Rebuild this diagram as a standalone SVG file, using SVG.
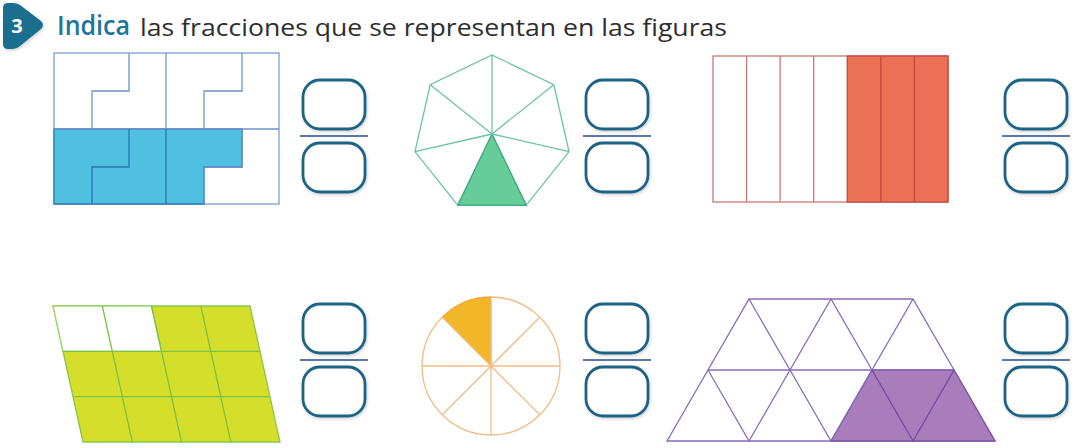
<svg xmlns="http://www.w3.org/2000/svg" width="1078" height="448" viewBox="0 0 1078 448">
<defs>
<filter id="sh" x="-20%" y="-20%" width="140%" height="140%">
<feDropShadow dx="1" dy="1.5" stdDeviation="1.5" flood-color="#000" flood-opacity="0.18"/>
</filter>
<g id="frac">
<rect x="0" y="0" width="62" height="49" rx="17" class="fbox" filter="url(#sh)"/>
<line x1="-3" y1="56" x2="65" y2="56" class="fline"/>
<rect x="0" y="63" width="62" height="49" rx="17" class="fbox" filter="url(#sh)"/>
</g>
</defs>
<style>
.fbox{fill:#fff;stroke:#1f6486;stroke-width:2.8}
.fline{stroke:#5b78a8;stroke-width:2}
.title{font-family:"Open Sans","Noto Sans",sans-serif}
</style>
<rect width="1078" height="448" fill="#fff"/>

<g id="header">
<path d="M8,3 L13,3 Q17,3 20,5 L41,21 Q45,25 41,29 L20,46 Q17,49 13,49 L8,49 Q3,49 3,44 L3,8 Q3,3 8,3 Z" fill="#1a6e8e" filter="url(#sh)"/>
<text x="17" y="33" font-family="'Open Sans',sans-serif" font-weight="bold" font-size="20" fill="#fff" text-anchor="middle">3</text>
<text x="57" y="35" class="title" font-weight="600" font-size="27" fill="#1e7699" textLength="73" lengthAdjust="spacingAndGlyphs">Indica</text>
<text x="140" y="36" class="title" font-size="24" fill="#2e2e2e" textLength="587" lengthAdjust="spacingAndGlyphs">las fracciones que se representan en las figuras</text>
</g>

<g id="fig1">
<rect x="54" y="53" width="225" height="151" fill="#fff" stroke="#7d9fd0" stroke-width="1.3"/>
<polygon points="54,129 242,129 242,167 204,167 204,204 54,204" fill="#4fc0df" stroke="#2f7ab5" stroke-width="1.3"/>
<g fill="none" stroke="#6e93c8" stroke-width="1.3">
<line x1="166" y1="53" x2="166" y2="129"/>
<line x1="54" y1="129" x2="279" y2="129"/>
<polyline points="129,53 129,91 92,91 92,129"/>
<polyline points="242,53 242,91 204,91 204,129"/>
<polyline points="242,129 242,167 204,167 204,204"/>
</g>
<g fill="none" stroke="#2a73ae" stroke-width="1.3">
<line x1="166" y1="129" x2="166" y2="204"/>
<polyline points="129,129 129,167 92,167 92,204"/>
</g>
</g>
<use id="frac1" href="#frac" x="303" y="80"/>

<g id="fig2">
<polygon points="492,55 553.8,84.7 569,151.6 526.3,205.2 457.7,205.2 415,151.6 430.2,84.7" fill="#fff" stroke="#6cc3a3" stroke-width="1.3"/>
<polygon points="492,134 526.3,205.2 457.7,205.2" fill="#66cc9a" stroke="#3aa578" stroke-width="1.3"/>
<g stroke="#6cc3a3" stroke-width="1.3">
<line x1="492" y1="134" x2="492" y2="55"/>
<line x1="492" y1="134" x2="553.8" y2="84.7"/>
<line x1="492" y1="134" x2="569" y2="151.6"/>
<line x1="492" y1="134" x2="430.2" y2="84.7"/>
<line x1="492" y1="134" x2="415" y2="151.6"/>
</g>
</g>
<use id="frac2" href="#frac" x="586" y="80"/>

<g id="fig3">
<rect x="713" y="56" width="235" height="146" fill="#fff" stroke="#c87a74" stroke-width="1.3"/>
<rect x="847.3" y="56" width="100.7" height="146" fill="#ea7155" stroke="#c04a3c" stroke-width="1.3"/>
<g stroke="#c87a74" stroke-width="1.3">
<line x1="746.6" y1="56" x2="746.6" y2="202"/>
<line x1="780.1" y1="56" x2="780.1" y2="202"/>
<line x1="813.7" y1="56" x2="813.7" y2="202"/>
</g>
<g stroke="#c04a3c" stroke-width="1.3">
<line x1="880.9" y1="56" x2="880.9" y2="202"/>
<line x1="914.4" y1="56" x2="914.4" y2="202"/>
</g>
</g>
<use id="frac3" href="#frac" x="1005" y="80"/>

<g id="fig4">
<polygon points="53,306 250,306 280,442 83,442" fill="#d5df2b" stroke="#86c84a" stroke-width="1.3"/>
<polygon points="53,306 151.5,306 161.5,351.3 63,351.3" fill="#fff" stroke="#9ed36d" stroke-width="1.3"/>
<g stroke="#7dc242" stroke-width="1.3">
<line x1="63" y1="351.3" x2="260" y2="351.3"/>
<line x1="73" y1="396.7" x2="270" y2="396.7"/>
<line x1="102.3" y1="306" x2="132.3" y2="442"/>
<line x1="151.5" y1="306" x2="181.5" y2="442"/>
<line x1="200.8" y1="306" x2="230.8" y2="442"/>
</g>
</g>
<use id="frac4" href="#frac" x="303" y="304"/>

<g id="fig5">
<circle cx="491" cy="366" r="69" fill="#fff" stroke="#f2bc85" stroke-width="1.3"/>
<path d="M491,366 L491,297 A69,69 0 0 0 442.2,317.2 Z" fill="#f2b728" stroke="#f0a830" stroke-width="1"/>
<g stroke="#f2bc85" stroke-width="1.3">
<line x1="422" y1="366" x2="560" y2="366"/>
<line x1="491" y1="297" x2="491" y2="435"/>
<line x1="442.2" y1="317.2" x2="539.8" y2="414.8"/>
<line x1="539.8" y1="317.2" x2="442.2" y2="414.8"/>
</g>
</g>
<use id="frac5" href="#frac" x="586" y="304"/>

<g id="fig6">
<polygon points="749,299 913,299 995,441 667,441" fill="#fff" stroke="#8a6bb8" stroke-width="1.3"/>
<polygon points="831,441 872,370 954,370 995,441" fill="#a97dbb" stroke="#7a55a8" stroke-width="1.3"/>
<g fill="none" stroke="#8a6bb8" stroke-width="1.3">
<line x1="708" y1="370" x2="954" y2="370"/>
<polyline points="708,370 749,441 790,370 831,441 872,370"/>
<polyline points="749,299 790,370 831,299 872,370 913,299"/>
</g>
<g fill="none" stroke="#6f4c9e" stroke-width="1.3">
<polyline points="872,370 913,441 954,370"/>
</g>
</g>
<use id="frac6" href="#frac" x="1005" y="304"/>
</svg>
